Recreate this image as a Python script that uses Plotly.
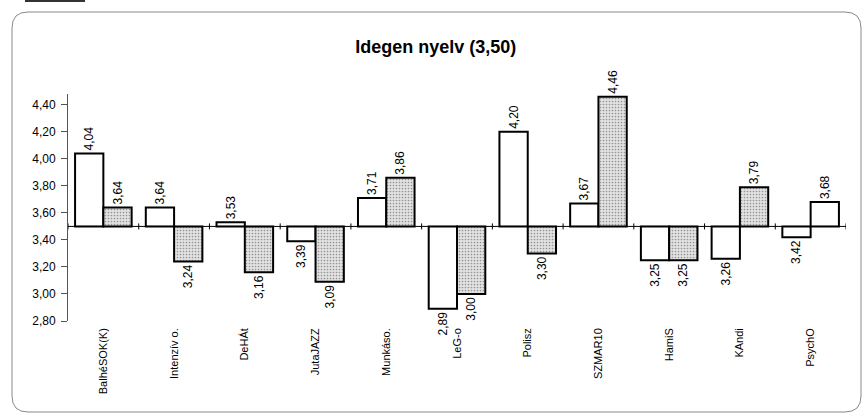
import plotly.graph_objects as go

categories = ["BalhéSOK(K)", "Intenzív o.", "DeHÁt", "JutaJAZZ", "Munkáso.", "LeG-o",
              "Polisz", "SZMAR10", "HamiS", "KAndi", "PsychO"]
series_a = [4.04, 3.64, 3.53, 3.39, 3.71, 2.89, 4.20, 3.67, 3.25, 3.26, 3.42]
series_b = [3.64, 3.24, 3.16, 3.09, 3.86, 3.00, 3.30, 4.46, 3.25, 3.79, 3.68]
base_value = 3.50
y_ticks = [2.80, 3.00, 3.20, 3.40, 3.60, 3.80, 4.00, 4.20, 4.40]
title_text = "Idegen nyelv (3,50)"

W, H = 863, 415
ML, MR, MT, MB = 68, 17, 94, 94
PW, PH = W - ML - MR, H - MT - MB

def fmt(v):
    return f"{v:.2f}".replace(".", ",")

font_family = "Arial, Liberation Sans, sans-serif"

fig = go.Figure()

fig.add_trace(go.Bar(
    x=categories, y=[v - base_value for v in series_a], base=base_value,
    text=[fmt(v) for v in series_a], textposition="outside", textangle=-90,
    textfont=dict(size=12, color="black", family=font_family),
    marker=dict(color="white", line=dict(color="black", width=2)),
    cliponaxis=False, showlegend=False, hoverinfo="skip",
))

b_colors = ["#e2e2e2"] * (len(series_b) - 1) + ["white"]
b_shapes = ["."] * (len(series_b) - 1) + [""]
fig.add_trace(go.Bar(
    x=categories, y=[v - base_value for v in series_b], base=base_value,
    text=[fmt(v) for v in series_b], textposition="outside", textangle=-90,
    textfont=dict(size=12, color="black", family=font_family),
    marker=dict(color=b_colors, line=dict(color="black", width=2),
                pattern=dict(shape=b_shapes, fgcolor="#7a7a7a", size=3, solidity=0.25,
                             fillmode="overlay")),
    cliponaxis=False, showlegend=False, hoverinfo="skip",
))

shapes = []
n = len(categories)
shapes.append(dict(type="line", xref="x", yref="y", x0=-0.5, x1=n - 0.5,
                   y0=base_value, y1=base_value, line=dict(color="black", width=1)))
for i in range(n + 1):
    shapes.append(dict(type="line", xref="x", yref="y", x0=i - 0.5, x1=i - 0.5,
                       ysizemode="pixel", yanchor=base_value, y0=-3, y1=3,
                       line=dict(color="black", width=1)))

def px(x):
    return (x - ML) / PW

def py(y):
    return (H - MB - y) / PH

x0f, x1f, y0f, y1f, r = 12, 861, 12, 412, 16
path = (f"M {px(x0f + r)},{py(y0f)} L {px(x1f - r)},{py(y0f)} "
        f"Q {px(x1f)},{py(y0f)} {px(x1f)},{py(y0f + r)} "
        f"L {px(x1f)},{py(y1f - r)} Q {px(x1f)},{py(y1f)} {px(x1f - r)},{py(y1f)} "
        f"L {px(x0f + r)},{py(y1f)} Q {px(x0f)},{py(y1f)} {px(x0f)},{py(y1f - r)} "
        f"L {px(x0f)},{py(y0f + r)} Q {px(x0f)},{py(y0f)} {px(x0f + r)},{py(y0f)} Z")
shapes.append(dict(type="path", xref="paper", yref="paper", path=path,
                   line=dict(color="#8a8a8a", width=1), layer="below"))
shapes.append(dict(type="line", xref="paper", yref="paper", x0=px(25), x1=px(85),
                   y0=py(1), y1=py(1), line=dict(color="#333", width=2)))

fig.update_layout(
    width=W, height=H,
    margin=dict(l=ML, r=MR, t=MT, b=MB),
    paper_bgcolor="white", plot_bgcolor="white",
    separators=",.",
    barmode="group", bargap=0.2, bargroupgap=0,
    font=dict(family=font_family, color="black"),
    title=dict(text=f"<b>{title_text}</b>", x=0.505, xanchor="center",
               y=1 - 47 / H, yanchor="middle",
               font=dict(size=18, family=font_family, color="black")),
    shapes=shapes,
)

fig.update_xaxes(type="category", showline=False, showgrid=False, zeroline=False,
                 ticks="", tickangle=-90, tickfont=dict(size=11, family=font_family),
                 ticklabelstandoff=4, range=[-0.5, n - 0.5])
fig.update_yaxes(range=[2.8, 4.48], tickvals=y_ticks, tickformat=".2f",
                 showline=True, linecolor="#555", linewidth=1, showgrid=False,
                 zeroline=False, ticks="outside", ticklen=6, tickcolor="#555",
                 ticklabelstandoff=3, tickfont=dict(size=12, family=font_family))

fig.write_html("out.html", config={"displayModeBar": False},
               post_script="document.body.style.margin='0';document.body.style.padding='0';")
